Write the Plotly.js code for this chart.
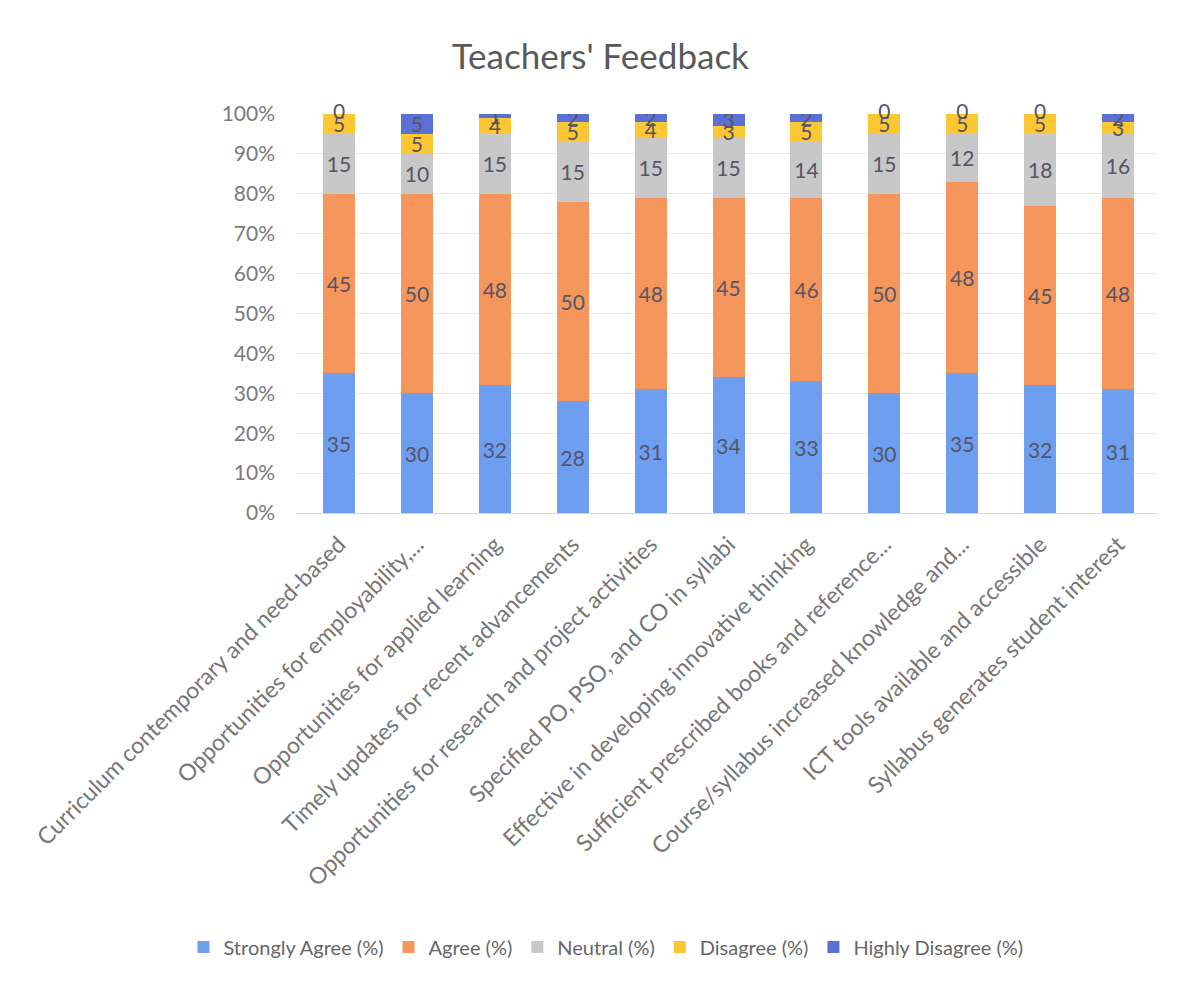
<!DOCTYPE html>
<html>
<head>
<meta charset="utf-8">
<script src="https://cdn.plot.ly/plotly-3.0.1.min.js"></script>
<style>html,body{margin:0;padding:0;background:#fff;}#chart{width:1184px;height:986px;}</style>
</head>
<body>
<div id="chart"></div>
<script>
const categories = [
  "Curriculum contemporary and need-based",
  "Opportunities for employability,...",
  "Opportunities for applied learning",
  "Timely updates for recent advancements",
  "Opportunities for research and project activities",
  "Specified PO, PSO, and CO in syllabi",
  "Effective in developing innovative thinking",
  "Sufficient prescribed books and reference...",
  "Course/syllabus increased knowledge and...",
  "ICT tools available and accessible",
  "Syllabus generates student interest"
];
const stronglyAgree = [35, 30, 32, 28, 31, 34, 33, 30, 35, 32, 31];
const agree         = [45, 50, 48, 50, 48, 45, 46, 50, 48, 45, 48];
const neutral       = [15, 10, 15, 15, 15, 15, 14, 15, 12, 18, 16];
const disagree      = [5, 5, 4, 5, 4, 3, 5, 5, 5, 5, 3];
const highlyDisagree= [0, 5, 1, 2, 2, 3, 2, 0, 0, 0, 2];
const seriesNames = ["Strongly Agree (%)", "Agree (%)", "Neutral (%)", "Disagree (%)", "Highly Disagree (%)"];
const yTicks = [0,10,20,30,40,50,60,70,80,90,100];

const colors = ["#6d9ef0", "#f5975c", "#c8c8c8", "#fdc633", "#5a70d6"];
const series = [stronglyAgree, agree, neutral, disagree, highlyDisagree];
const FONT = "Lato, 'Open Sans', sans-serif";
const LABEL_COLOR = "#555566";

const traces = series.map((vals, i) => ({
  type: "bar",
  name: seriesNames[i],
  x: categories,
  y: vals,
  text: vals.map(String),
  textposition: "inside",
  insidetextanchor: "middle",
  textangle: 0,
  constraintext: "none",
  textfont: {family: FONT, size: 21, color: LABEL_COLOR},
  marker: {color: colors[i], line: {width: 0}},
  hoverinfo: "x+y+name"
}));

// zero-valued "Highly Disagree" labels drawn at the stack top (Plotly skips text on zero-height bars)
const totals = categories.map((_, k) => series.reduce((s, arr) => s + arr[k], 0));
const zeroIdx = highlyDisagree.map((v, k) => v === 0 ? k : -1).filter(k => k >= 0);
traces.push({
  type: "scatter",
  mode: "text",
  x: zeroIdx.map(k => categories[k]),
  y: zeroIdx.map(k => totals[k]),
  text: zeroIdx.map(k => String(highlyDisagree[k])),
  textposition: "middle center",
  textfont: {family: FONT, size: 21, color: LABEL_COLOR},
  showlegend: false,
  hoverinfo: "skip",
  cliponaxis: false
});

const layout = {
  width: 1184, height: 986,
  paper_bgcolor: "#ffffff",
  plot_bgcolor: "#ffffff",
  barmode: "stack",
  bargap: 0.59,
  font: {family: FONT, color: "#595959"},
  title: {text: "Teachers' Feedback", font: {family: FONT, size: 35, color: "#595959"},
          x: 0.507, xref: "container", y: 0.942, yref: "container", xanchor: "center", yanchor: "middle"},
  margin: {l: 296, r: 27, t: 114, b: 473, pad: 0},
  xaxis: {
    type: "category",
    tickmode: "linear", dtick: 1, tick0: 0,
    tickangle: -45,
    tickfont: {family: FONT, size: 23, color: "#767676"},
    ticklabelstandoff: 8,
    showline: true, linecolor: "#d9d9d9", linewidth: 1,
    ticks: "", showgrid: false, automargin: false
  },
  yaxis: {
    range: [0, 100],
    tickvals: yTicks,
    ticktext: yTicks.map(v => v + "%"),
    tickfont: {family: FONT, size: 21, color: "#7a7a7a"},
    showgrid: true, gridcolor: "#e8e8e8", gridwidth: 1,
    zeroline: false, showline: false, ticks: "",
    ticklabelstandoff: 20, automargin: false
  },
  legend: {
    orientation: "h",
    x: 0.36, xanchor: "center",
    y: -1.088, yanchor: "middle",
    font: {family: FONT, size: 20, color: "#666666"},
    traceorder: "normal"
  },
  showlegend: true
};

Plotly.newPlot("chart", traces, layout, {displayModeBar: false, staticPlot: true});
</script>
</body>
</html>
